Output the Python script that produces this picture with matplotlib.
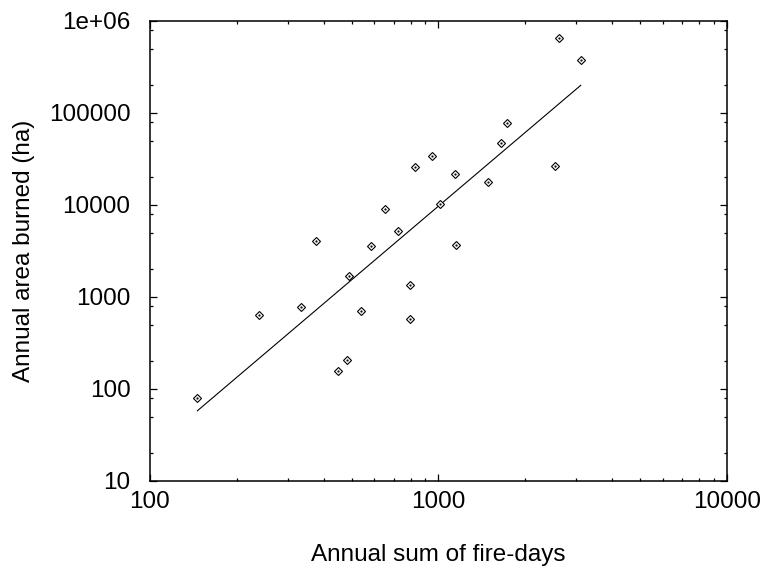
import matplotlib
matplotlib.use("Agg")
from matplotlib import pyplot as plt
from matplotlib.ticker import FixedLocator, FixedFormatter, LogLocator, NullFormatter

plt.rcParams['font.family'] = ['Liberation Sans', 'DejaVu Sans']

# fire-days vs area burned
fire_days = [145, 239, 333, 375, 448, 481, 491, 540, 583, 653, 726, 798,
             798, 829, 947, 1012, 1141, 1150, 1485, 1647, 1732, 2535, 2623, 3112]
area_ha = [79, 630, 770, 4030, 156, 205, 1690, 710, 3610, 8980, 5180, 1360,
           581, 25700, 34100, 10200, 21600, 3680, 17900, 46900, 77300, 26700,
           648000, 374000]

# fitted power law, end points
fit_x = [146, 3112]
fit_y = [58, 200000]

xticks = [100, 1000, 10000]
xticklabels = ["100", "1000", "10000"]
yticks = [10, 100, 1000, 10000, 100000, 1000000]
yticklabels = ["10", "100", "1000", "10000", "100000", "1e+06"]

fig = plt.figure(figsize=(7.64, 5.72), dpi=100)
ax = fig.add_axes([0.1963, 0.1591, 0.7553, 0.8042])

ax.plot(fit_x, fit_y, color="black", lw=0.8)
ax.plot(fire_days, area_ha, linestyle="none", marker="D", ms=4.2,
        mfc="white", mec="black", mew=0.8)
ax.plot(fire_days, area_ha, linestyle="none", marker=".", ms=1.2, color="black")

ax.set_xscale("log")
ax.set_yscale("log")
ax.set_xlim(100, 10000)
ax.set_ylim(10, 1000000)

ax.xaxis.set_major_locator(FixedLocator(xticks))
ax.xaxis.set_major_formatter(FixedFormatter(xticklabels))
ax.xaxis.set_minor_locator(LogLocator(base=10, subs=[2, 3, 4, 5, 6, 7, 8, 9]))
ax.xaxis.set_minor_formatter(NullFormatter())
ax.yaxis.set_major_locator(FixedLocator(yticks))
ax.yaxis.set_major_formatter(FixedFormatter(yticklabels))
ax.yaxis.set_minor_locator(LogLocator(base=10, subs=[2, 5, 8]))
ax.yaxis.set_minor_formatter(NullFormatter())

ax.tick_params(which="both", direction="in", top=True, right=True, width=0.9)
ax.tick_params(which="major", length=5, labelsize=17.5)
ax.tick_params(which="minor", length=2.5)
ax.tick_params(axis="y", which="major", pad=14)
ax.tick_params(axis="x", which="major", pad=7)
for s in ax.spines.values():
    s.set_linewidth(1.1)

ax.set_xlabel("Annual sum of fire-days", fontsize=17.5)
ax.set_ylabel("Annual area burned (ha)", fontsize=17.5)
ax.xaxis.set_label_coords(0.5, -0.161)
ax.xaxis.label.set_verticalalignment("center")
ax.yaxis.set_label_coords(-0.218, 0.5)
ax.yaxis.label.set_verticalalignment("center")

fig.savefig("out.png", dpi=100)
